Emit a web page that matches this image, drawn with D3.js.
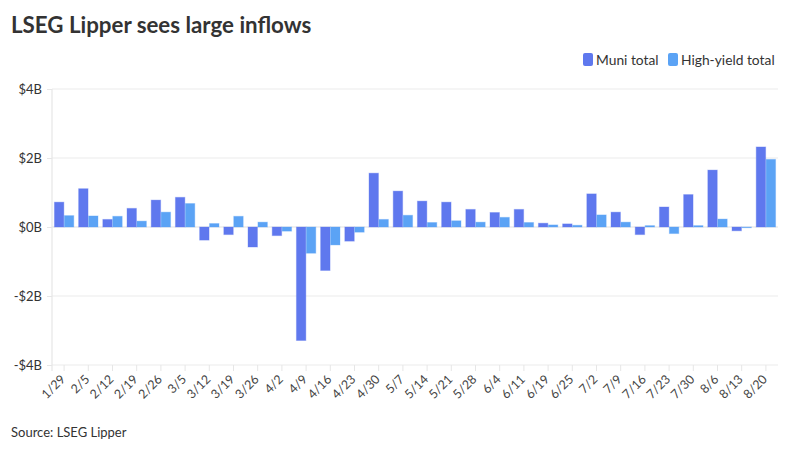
<!DOCTYPE html>
<html lang="en">
  <head>
    <meta charset="utf-8" />
    <title>LSEG Lipper sees large inflows</title>
    <script src="https://d3js.org/d3.v7.min.js"></script>
    <style type="text/css">
      body { margin: 0; background: #fff; }
      text { font-family: Lato, 'Open Sans', sans-serif; }
    </style>
  </head>
  <body>
    <script type="text/javascript">
      const w = 800;
      const h = 450;

      // weekly flows, $ billions
      const weeks = ['1/29', '2/5', '2/12', '2/19', '2/26', '3/5', '3/12', '3/19', '3/26', '4/2',
        '4/9', '4/16', '4/23', '4/30', '5/7', '5/14', '5/21', '5/28', '6/4', '6/11',
        '6/19', '6/25', '7/2', '7/9', '7/16', '7/23', '7/30', '8/6', '8/13', '8/20'];
      const muni = [0.72, 1.11, 0.22, 0.54, 0.78, 0.86, -0.38, -0.22, -0.58, -0.25,
        -3.29, -1.26, -0.41, 1.56, 1.04, 0.75, 0.72, 0.51, 0.42, 0.51,
        0.11, 0.09, 0.96, 0.43, -0.22, 0.58, 0.94, 1.65, -0.11, 2.32];
      const highYield = [0.33, 0.32, 0.31, 0.17, 0.43, 0.68, 0.10, 0.31, 0.14, -0.12,
        -0.76, -0.52, -0.15, 0.22, 0.34, 0.13, 0.18, 0.14, 0.28, 0.13,
        0.06, 0.05, 0.35, 0.14, 0.04, -0.19, 0.04, 0.23, -0.02, 1.96];
      const yTicks = [-4, -2, 0, 2, 4];

      const seriesNames = ['Muni total', 'High-yield total'];
      const colors = ['#5f78ee', '#5ba3f5'];

      const svg = d3.select('body').append('svg').attr('width', w).attr('height', h);

      const x0 = d3.scaleBand().domain(weeks).range([52, 778]).paddingInner(0.2).paddingOuter(0.1);
      const x1 = d3.scaleBand().domain(seriesNames).range([0, x0.bandwidth()]).paddingInner(0.05);
      const y = d3.scaleLinear().domain([-4, 4]).range([365, 89]);

      //Title
      svg.append('text').attr('x', 11).attr('y', 33)
        .attr('font-size', '22.3px').attr('font-weight', 'bold').attr('fill', '#333')
        .text('LSEG Lipper sees large inflows');

      //Gridlines + y labels
      const yAxis = svg.append('g').attr('transform', 'translate(52,0)')
        .call(d3.axisLeft(y).tickValues(yTicks).tickSize(5)
          .tickFormat((d) => (d < 0 ? '-$' + Math.abs(d) : '$' + d) + 'B'));
      yAxis.select('.domain').remove();
      yAxis.selectAll('line').attr('stroke', '#e6e6e6');
      yAxis.selectAll('text').attr('font-size', '13px').attr('fill', '#333').attr('x', -10)
        .style('font-family', 'Lato, sans-serif');

      svg.append('g').selectAll('line').data(yTicks).join('line')
        .attr('x1', 52).attr('x2', 778)
        .attr('y1', (d) => y(d)).attr('y2', (d) => y(d))
        .attr('stroke', (d) => (d === 0 ? '#e2e2e2' : '#ebebeb'))
        .attr('stroke-width', 1.2);

      svg.append('line').attr('x1', 52).attr('x2', 52).attr('y1', y(4)).attr('y2', y(-4) + 6)
        .attr('stroke', '#e6e6e6').attr('stroke-width', 1.2);

      //Bars
      const groups = svg.append('g').selectAll('g').data(weeks).join('g')
        .attr('transform', (d) => `translate(${x0(d)},0)`);
      groups.selectAll('rect')
        .data((d, i) => [{ k: seriesNames[0], v: muni[i], c: colors[0] }, { k: seriesNames[1], v: highYield[i], c: colors[1] }])
        .join('rect')
        .attr('x', (d) => x1(d.k))
        .attr('width', x1.bandwidth())
        .attr('y', (d) => y(Math.max(0, d.v)))
        .attr('height', (d) => Math.abs(y(d.v) - y(0)))
        .attr('fill', (d) => d.c)
        .attr('stroke', (d) => d.c)
        .attr('stroke-opacity', 0.35)
        .attr('stroke-width', 1);

      //X axis
      const xAxis = svg.append('g').attr('transform', `translate(0,${y(-4)})`)
        .call(d3.axisBottom(x0).tickSize(6).tickSizeOuter(0));
      xAxis.select('.domain').remove();
      xAxis.selectAll('line').attr('stroke', '#e6e6e6');
      xAxis.selectAll('text')
        .attr('font-size', '12.5px').attr('fill', '#444')
        .style('font-family', 'Lato, sans-serif')
        .attr('text-anchor', 'end')
        .attr('x', 0).attr('y', 0).attr('dy', 0)
        .attr('transform', 'translate(2,15) rotate(-45)');

      //Legend
      const legend = svg.append('g');
      const legendX = [583, 668];
      seriesNames.forEach((s, i) => {
        legend.append('rect').attr('x', legendX[i]).attr('y', 53).attr('width', 10).attr('height', 13)
          .attr('rx', 2).attr('fill', colors[i]);
        legend.append('text').attr('x', legendX[i] + 13).attr('y', 64.5)
          .attr('font-size', '13.8px').attr('fill', '#333').text(s);
      });

      //Source
      svg.append('text').attr('x', 11).attr('y', 437)
        .attr('font-size', '13px').attr('fill', '#333').text('Source: LSEG Lipper');
    </script>
  </body>
</html>
